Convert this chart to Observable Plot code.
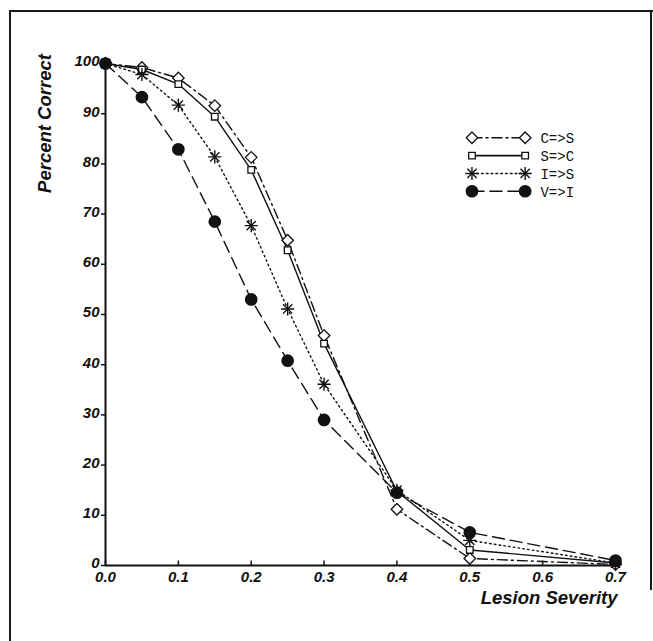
<!DOCTYPE html>
<html><head><meta charset="utf-8">
<script src="https://cdn.jsdelivr.net/npm/d3@7"></script>
<script src="https://cdn.jsdelivr.net/npm/@observablehq/plot@0.6"></script>
<style>
body{margin:0;background:#fff;}
#wrap{position:relative;width:653px;height:641px;overflow:hidden;background:#fff;}
.bd{position:absolute;background:#1a1a1a;}
#chart{position:absolute;left:0;top:0;}
</style></head><body>
<div id="wrap">
  <div class="bd" style="left:9px;top:10px;width:2px;height:640px"></div>
  <div class="bd" style="left:9px;top:10px;width:644px;height:2px"></div>
  <div class="bd" style="left:650px;top:10px;width:2px;height:580px"></div>
  <div id="chart"></div>
</div>
<script>
// ---- data ----
const severity = [0, 0.05, 0.1, 0.15, 0.2, 0.25, 0.3, 0.4, 0.5, 0.7];
const seriesNames = ["C=>S", "S=>C", "I=>S", "V=>I"];
const valuesCS = [100, 99.2, 97.1, 91.6, 81.3, 64.8, 45.8, 11.2, 1.4, 0.2];
const valuesSC = [100, 98.8, 95.9, 89.4, 78.8, 62.8, 44.2, 14.8, 3.1, 0.5];
const valuesIS = [100, 97.8, 91.7, 81.4, 67.7, 51.1, 36.1, 15.0, 5.0, 0.5];
const valuesVI = [100, 93.3, 82.9, 68.5, 53.0, 40.8, 29.0, 14.5, 6.6, 1.0];
const xTicks = [0, 0.1, 0.2, 0.3, 0.4, 0.5, 0.6, 0.7];
const yTicks = [0, 10, 20, 30, 40, 50, 60, 70, 80, 90, 100];
const xLabel = "Lesion Severity";
const yLabel = "Percent Correct";

const seriesValues = [valuesCS, valuesSC, valuesIS, valuesVI];
const data = seriesNames.flatMap((name, i) =>
  severity.map((x, j) => ({series: name, x, y: seriesValues[i][j]})));

// ---- styles ----
const style = {
  "C=>S": {dash: "10,4,2,4", kind: "diamond"},
  "S=>C": {dash: null, kind: "square"},
  "I=>S": {dash: "1.6,3.2", kind: "star"},
  "V=>I": {dash: "12,6", kind: "circle"}
};
const INK = "#111";

function symbolMarks(rows, kind) {
  if (kind === "diamond") return [Plot.dot(rows, {x: "x", y: "y", symbol: "diamond2", r: 5.2, stroke: INK, strokeWidth: 1.3, fill: "white"})];
  if (kind === "square") return [Plot.dot(rows, {x: "x", y: "y", symbol: "square2", r: 4.2, stroke: INK, strokeWidth: 1.3, fill: "white"})];
  if (kind === "star") return [
    Plot.dot(rows, {x: "x", y: "y", symbol: "plus", r: 4.3, stroke: INK, strokeWidth: 1.4}),
    Plot.dot(rows, {x: "x", y: "y", symbol: "times", r: 4.3, stroke: INK, strokeWidth: 1.4})];
  return [Plot.dot(rows, {x: "x", y: "y", r: 5.6, fill: INK, stroke: INK})];
}

// legend geometry (layout, in data units)
const legX1 = 0.503, legX2 = 0.576, legTextX = 0.597, legY0 = 85.2, legStep = 3.55;
const legendRows = seriesNames.map((name, i) => ({series: name, y: legY0 - i * legStep}));

const marks = [];
// axes lines and ticks
marks.push(Plot.ruleX([0], {y1: 0, y2: 100, stroke: INK, strokeWidth: 2}));
marks.push(Plot.ruleY([0], {x1: 0, x2: 0.7, stroke: INK, strokeWidth: 2}));
marks.push(Plot.ruleX(xTicks, {y1: 0, y2: 0.9, stroke: INK, strokeWidth: 1.5}));
marks.push(Plot.ruleY(yTicks, {x1: -0.0055, x2: 0, stroke: INK, strokeWidth: 1.5}));
marks.push(Plot.axisY(yTicks, {tickSize: 0, tickPadding: 6, label: null, fontSize: 15, dy: -2}));
marks.push(Plot.axisX(xTicks, {tickSize: 0, tickPadding: 6, label: null, tickFormat: d => d.toFixed(1), fontSize: 15}));

// lines
for (const name of seriesNames) {
  const rows = data.filter(d => d.series === name);
  marks.push(Plot.line(rows, {x: "x", y: "y", curve: "linear", stroke: INK, strokeWidth: 1.4,
    strokeDasharray: style[name].dash || undefined, strokeLinecap: "round"}));
}
for (const name of seriesNames) {
  const rows = data.filter(d => d.series === name);
  marks.push(...symbolMarks(rows, style[name].kind));
}

// legend
for (const row of legendRows) {
  const st = style[row.series];
  const pts = [{x: legX1, y: row.y}, {x: legX2, y: row.y}];
  marks.push(Plot.line(pts, {x: "x", y: "y", stroke: INK, strokeWidth: 1.6,
    strokeDasharray: st.dash || undefined, strokeLinecap: "round"}));
  marks.push(...symbolMarks(pts, st.kind));
  marks.push(Plot.text([row], {x: () => legTextX, y: "y", text: "series", textAnchor: "start",
    fontFamily: "Liberation Mono, DejaVu Sans Mono, monospace", fontStyle: "normal", fontWeight: "normal",
    fontSize: 14, fill: INK, dy: 1, letterSpacing: "3px"}));
}

// axis titles
marks.push(Plot.text([yLabel], {frameAnchor: "top-left", dx: -60, dy: 60, rotate: -90,
  textAnchor: "middle", lineAnchor: "middle", fontSize: 18.5, fill: INK}));
marks.push(Plot.text([xLabel], {frameAnchor: "bottom-right", dx: 2, dy: 33,
  textAnchor: "end", lineAnchor: "middle", fontSize: 18.5, fill: INK}));

const chart = Plot.plot({
  width: 653, height: 641,
  marginLeft: 105, marginRight: 38, marginTop: 63, marginBottom: 76,
  x: {domain: [0, 0.7]},
  y: {domain: [0, 100]},
  style: {fontFamily: "Liberation Sans, Arial, Helvetica, sans-serif", fontWeight: "bold",
    fontStyle: "italic", fontSize: "15px", color: INK, background: "transparent", overflow: "visible"},
  marks
});
document.getElementById("chart").appendChild(chart);
</script>
</body></html>
